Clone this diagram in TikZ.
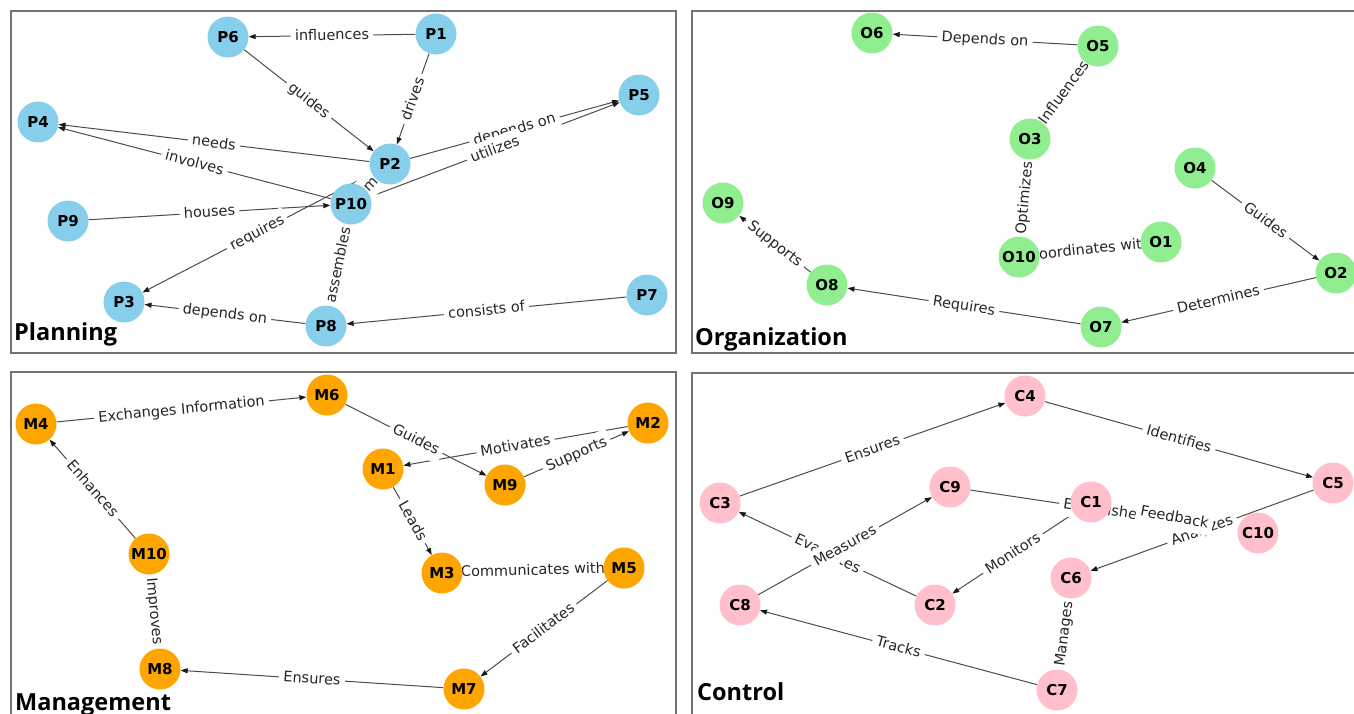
\documentclass[tikz,border=0pt]{standalone}
\usepackage{fontspec}
\usetikzlibrary{arrows.meta}
\newfontfamily\dvs{DejaVu Sans}
\newfontfamily\ttl{Open Sans}
\pgfdeclarelayer{edges}
\pgfdeclarelayer{labels}
\pgfsetlayers{edges,labels,main}
\definecolor{cP}{HTML}{87CEEB}
\definecolor{cO}{HTML}{90EE90}
\definecolor{cM}{HTML}{FFA500}
\definecolor{cC}{HTML}{FFC0CB}
\tikzset{
  vtx/.style={circle, minimum size=41pt, inner sep=0pt, draw=none, text=black,
    font=\fontsize{15}{17}\dvs\bfseries},
  pnode/.style={vtx, fill=cP},
  onode/.style={vtx, fill=cO},
  mnode/.style={vtx, fill=cM},
  cnode/.style={vtx, fill=cC},
  conn/.style={draw=black!70, line width=1pt},
  arr/.style={conn, -{Triangle[length=7pt,width=5pt,color=black!90]}},
  elab/.style={sloped, midway, fill=white, rounded corners=3pt, inner xsep=4.3pt,
    inner ysep=4pt, text height=12.5pt, text depth=3.5pt, text=black!85,
    font=\fontsize{14.5}{16}\dvs},
  panel/.style={draw=black!55, line width=1.3pt},
  ptitle/.style={anchor=base west, inner sep=0pt, text=black,
    font=\fontsize{23.5}{26}\ttl\bfseries}
}
\begin{document}
\begin{tikzpicture}[x=1pt,y=-1pt]
\useasboundingbox (0,0) rectangle (1354,713);

% ---------- nodes ----------
% Planning
\node[pnode] (P1) at (436,34) {P1};
\node[pnode] (P6) at (228,37) {P6};
\node[pnode] (P5) at (639,95) {P5};
\node[pnode] (P4) at (38,122) {P4};
\node[pnode] (P2) at (390,164) {P2};
\node[pnode] (P10) at (351,204) {P10};
\node[pnode] (P9) at (68,221) {P9};
\node[pnode] (P3) at (124,302) {P3};
\node[pnode] (P8) at (326,326) {P8};
\node[pnode] (P7) at (647,295) {P7};
% Organization
\node[onode] (O6) at (872,33) {O6};
\node[onode] (O5) at (1098,46) {O5};
\node[onode] (O3) at (1030,139) {O3};
\node[onode] (O4) at (1195,168) {O4};
\node[onode] (O9) at (723,203) {O9};
\node[onode] (O1) at (1161,242) {O1};
\node[onode] (O10) at (1019,257) {O10};
\node[onode] (O2) at (1336,273) {O2};
\node[onode] (O8) at (827,285) {O8};
\node[onode] (O7) at (1101,327) {O7};
% Management
\node[mnode] (M4) at (36,424) {M4};
\node[mnode] (M6) at (327,395) {M6};
\node[mnode] (M2) at (648,423) {M2};
\node[mnode] (M1) at (383,469) {M1};
\node[mnode] (M9) at (505,485) {M9};
\node[mnode] (M10) at (149,554) {M10};
\node[mnode] (M3) at (442,573) {M3};
\node[mnode] (M5) at (624,568) {M5};
\node[mnode] (M8) at (160,669) {M8};
\node[mnode] (M7) at (464,689) {M7};
% Control
\node[cnode] (C4) at (1025,396) {C4};
\node[cnode] (C3) at (720,503) {C3};
\node[cnode] (C9) at (950,487) {C9};
\node[cnode] (C1) at (1091,502) {C1};
\node[cnode] (C5) at (1333,483) {C5};
\node[cnode] (C10) at (1258,533) {C10};
\node[cnode] (C8) at (740,605) {C8};
\node[cnode] (C2) at (935,605) {C2};
\node[cnode] (C6) at (1071,578) {C6};
\node[cnode] (C7) at (1057,690) {C7};

% titles
\node[ptitle] (tP) at (14,340) {Planning};
\node[ptitle] (tO) at (695,345) {Organization};
\node[ptitle] (tM) at (15,710) {Management};
\node[ptitle] (tC) at (697,700) {Control};

% ---------- panels and edges ----------
\begin{pgfonlayer}{edges}
\fill[white] (0,0) rectangle (1354,713);
\draw[panel] (11,11) rectangle (676,353);
\draw[panel] (692,11) rectangle (1380,353);
\draw[panel] (11,372) rectangle (676,740);
\draw[panel] (692,373) rectangle (1380,740);
% Planning
\draw[arr] (P1) -- (P6);
\draw[arr] (P6) -- (P2);
\draw[arr] (P1) -- (P2);
\draw[arr] (P2) -- (P4);
\draw[arr] (P10) -- (P4);
\draw[arr] (P2) -- (P5);
\draw[arr] (P10) -- (P5);
\draw[arr] (P9) -- (P10);
\draw[arr] (P2) -- (P3);
\draw[arr] (P8) -- (P3);
\draw[arr] (P7) -- (P8);
\draw[conn] (P8) -- (P10);
\draw[conn] (P10) -- (P2);
% Organization
\draw[arr] (O5) -- (O6);
\draw[conn] (O5) -- (O3);
\draw[conn] (O3) -- (O10);
\draw[conn] (O10) -- (O1);
\draw[arr] (O4) -- (O2);
\draw[arr] (O2) -- (O7);
\draw[arr] (O7) -- (O8);
\draw[arr] (O8) -- (O9);
% Management
\draw[arr] (M4) -- (M6);
\draw[arr] (M6) -- (M9);
\draw[arr] (M2) -- (M1);
\draw[arr] (M9) -- (M2);
\draw[arr] (M1) -- (M3);
\draw[conn] (M3) -- (M5);
\draw[arr] (M5) -- (M7);
\draw[arr] (M7) -- (M8);
\draw[arr] (M10) -- (M4);
\draw[conn] (M10) -- (M8);
% Control
\draw[arr] (C3) -- (C4);
\draw[arr] (C4) -- (C5);
\draw[arr] (C2) -- (C3);
\draw[arr] (C8) -- (C9);
\draw[arr] (C1) -- (C2);
\draw[conn] (C9) -- (C10);
\draw[conn] (C1) -- (C10);
\draw[arr] (C5) -- (C6);
\draw[conn] (C6) -- (C7);
\draw[arr] (C7) -- (C8);
\end{pgfonlayer}

% ---------- edge labels ----------
\begin{pgfonlayer}{labels}
% Planning
\path (P1) -- node[elab]{influences} (P6);
\path (P6) -- node[elab]{guides} (P2);
\path (P1) -- node[elab]{drives} (P2);
\path (P2) -- node[elab]{needs} (P4);
\path (P10) -- node[elab]{involves} (P4);
\path (P2) -- node[elab]{depends on} (P5);
\path (P10) -- node[elab]{utilizes} (P5);
\path (P9) -- node[elab]{houses} (P10);
\path (P2) -- node[elab]{requires} (P3);
\path (P8) -- node[elab]{depends on} (P3);
\path (P7) -- node[elab]{consists of} (P8);
\path (P8) -- node[elab]{assembles} (P10);
\path (P10) -- node[elab, minimum width=50pt, minimum height=20pt]{m} (P2);
% Organization
\path (O5) -- node[elab]{Depends on} (O6);
\path (O5) -- node[elab]{Influences} (O3);
\path (O3) -- node[elab]{Optimizes} (O10);
\path (O10) -- node[elab]{Coordinates with} (O1);
\path (O4) -- node[elab]{Guides} (O2);
\path (O2) -- node[elab]{Determines} (O7);
\path (O7) -- node[elab]{Requires} (O8);
\path (O8) -- node[elab]{Supports} (O9);
% Management
\path (M4) -- node[elab]{Exchanges Information} (M6);
\path (M6) -- node[elab]{Guides} (M9);
\path (M2) -- node[elab]{Motivates} (M1);
\path (M9) -- node[elab]{Supports} (M2);
\path (M1) -- node[elab]{Leads} (M3);
\path (M3) -- node[elab]{Communicates with} (M5);
\path (M5) -- node[elab]{Facilitates} (M7);
\path (M7) -- node[elab]{Ensures} (M8);
\path (M10) -- node[elab]{Enhances} (M4);
\path (M10) -- node[elab]{Improves} (M8);
% Control
\path (C3) -- node[elab]{Ensures} (C4);
\path (C4) -- node[elab]{Identifies} (C5);
\path (C2) -- node[elab]{Evaluates} (C3);
\path (C8) -- node[elab]{Measures} (C9);
\path (C1) -- node[elab]{Monitors} (C2);
\path (C9) -- node[elab]{Establishes} (C10);
\path (C5) -- node[elab]{Analyzes} (C6);
\path (C1) -- node[elab]{Feedback} (C10);
\path (C6) -- node[elab]{Manages} (C7);
\path (C7) -- node[elab]{Tracks} (C8);
\end{pgfonlayer}
\end{tikzpicture}
\end{document}
